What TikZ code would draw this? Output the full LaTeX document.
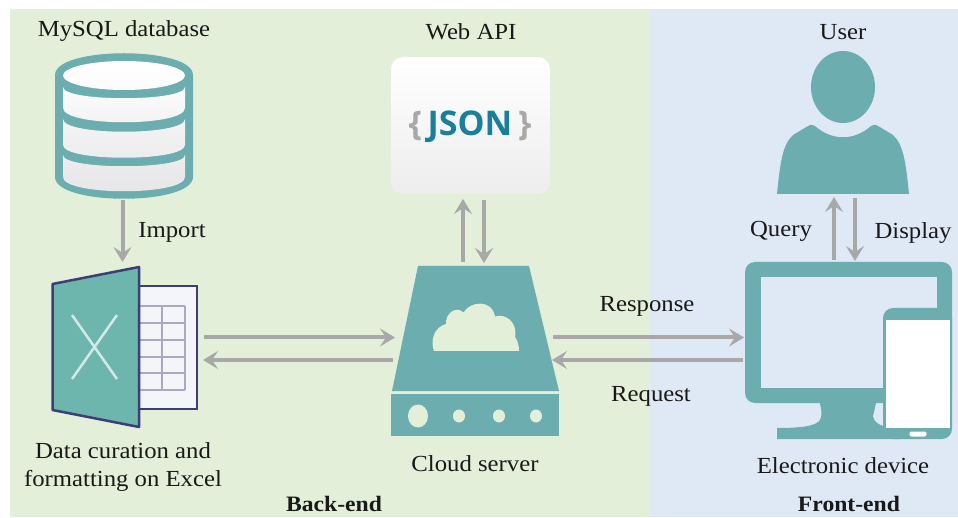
\documentclass[tikz,border=0pt]{standalone}
\usepackage{fontspec}
\setmainfont[FakeStretch=1.075]{Liberation Serif}
\newfontfamily\jsonfont{Open Sans}
\usetikzlibrary{arrows.meta}
\definecolor{backgreen}{HTML}{E3EFD9}
\definecolor{frontblue}{HTML}{DFE9F5}
\definecolor{iconteal}{HTML}{6CADB0}
\definecolor{sheetteal}{HTML}{6DB6AE}
\definecolor{sheetedge}{HTML}{3D3D78}
\definecolor{sheetpage}{HTML}{F4F5F9}
\definecolor{sheetgrid}{HTML}{A9A9C4}
\definecolor{jsonblue}{HTML}{1A7F98}
\definecolor{arrowgray}{HTML}{A8A8A8}
\definecolor{diskA}{HTML}{FBFBFB}
\definecolor{diskB}{HTML}{F3F3F4}
\definecolor{diskC}{HTML}{EDEDEE}
\definecolor{diskD}{HTML}{E6E6E8}
\tikzset{
	label text/.style={font=\fontsize{23}{28}\selectfont, text=black!90, inner sep=0pt, align=center},
	end text/.style={label text, font=\bfseries\fontsize{22}{26}\selectfont},
	link/.style={draw=arrowgray, line width=4pt, -{Stealth[length=15pt,width=18pt,inset=6pt]}},
	disk/.style n args={2}{top color=#1, bottom color=#2},
}
\begin{document}
\begin{tikzpicture}[x=1pt, y=-1pt]
	\useasboundingbox (0,0) rectangle (958,518);
	\fill[backgreen] (10,9) rectangle (650,517);
	\fill[frontblue] (650,9) rectangle (958,517);

	\fill[iconteal] (55,75) .. controls (55,46) and (193,46) .. (193,75) -- (193,177) .. controls (193,206) and (55,206) .. (55,177) -- cycle;
	\shade[disk={white}{diskA}] (124,75.5) ellipse [x radius=61, y radius=14.5];
	\shade[disk={diskA}{diskB}] (63,87) .. controls (63,102) and (185,102) .. (185,87) -- (185,108) .. controls (185,127) and (63,127) .. (63,108) -- cycle;
	\shade[disk={diskB}{diskC}] (63,119) .. controls (63,136) and (185,136) .. (185,119) -- (185,145) .. controls (185,162) and (63,162) .. (63,145) -- cycle;
	\shade[disk={diskC}{diskD}] (63,155) .. controls (63,170) and (185,170) .. (185,155) -- (185,177) .. controls (185,196) and (63,196) .. (63,177) -- cycle;

	\draw[sheetedge, line width=2.5pt, fill=sheetpage] (139,286) rectangle (197,409);
	\foreach \gridy in {306,323,340,357,373,390}
		\draw[sheetgrid, line width=2.5pt] (139,\gridy) -- (185,\gridy);
	\foreach \gridx in {162,185}
		\draw[sheetgrid, line width=2.5pt] (\gridx,306) -- (\gridx,390);
	\draw[sheetedge, line width=2.5pt, fill=sheetteal, line join=round] (52.5,284) -- (139,267) -- (139,427) -- (52.5,410) -- cycle;
	\draw[white!70!sheetteal, line width=2.5pt] (72,315) -- (117,379) (117,315) -- (72,379);

	\shade[rounded corners=12pt, top color=white, bottom color=white!86!gray] (391,57) rectangle (550,194);
	\node[font=\jsonfont\bfseries\fontsize{34}{40}\selectfont, text=jsonblue, inner sep=0pt] (json) at (470,127) {\textcolor{arrowgray}{\{}\,JSON\,\textcolor{arrowgray}{\}}};

	\fill[iconteal] (418,266) -- (529,266) -- (559,391) -- (392,391) -- cycle;
	\fill[backgreen] (434,351) .. controls (430,341) and (434,327) .. (446,324) .. controls (445,314) and (456,305) .. (463.5,312.5) .. controls (470,301) and (492,299) .. (495,316.5) .. controls (505,313) and (518,322) .. (515,337) .. controls (518,341) and (519,346) .. (519,351) -- cycle;
	\fill[iconteal] (391,394) rectangle (559,436);
	\fill[backgreen] (418,416) ellipse [x radius=10, y radius=11.5];
	\foreach \ledx in {459,499,536}
		\fill[backgreen] (\ledx,416) ellipse [x radius=6, y radius=6.5];

	\fill[iconteal] (843,87) ellipse [x radius=32, y radius=36];
	\fill[iconteal] (777,194) .. controls (780,165) and (782,145) .. (793,135) -- (808,126) .. controls (811,124) and (813,125) .. (815,126) .. controls (832,141) and (854,141) .. (871,126) .. controls (873,125) and (875,124) .. (878,126) -- (893,135) .. controls (904,145) and (906,165) .. (909,194) -- cycle;

	\fill[iconteal, rounded corners=10pt] (745,262) rectangle (952,403);
	\fill[frontblue] (761,277) rectangle (937,388);
	\fill[iconteal] (819,400) .. controls (821,408) and (823,414) .. (820,420) .. controls (816,427) and (795,428) .. (777,428) -- (777,439) -- (900,439) -- (900,426) -- (883,426) .. controls (875,423) and (871,418) .. (874,412) -- (876,403) -- (876,400) -- cycle;
	\fill[iconteal, rounded corners=10pt] (883,330) -- (883,308) -- (952,308) -- (952,439) -- (883,439) -- (883,420);
	\fill[iconteal] (883,330) rectangle (900,439);
	\fill[white] (886,320) rectangle (950,428);
	\fill[white, rounded corners=2pt] (909.5,431.5) rectangle (926.5,436.5);

	\coordinate (db) at (122.5,200);
	\coordinate (sheet) at (122.5,262);
	\coordinate (apiup) at (463,199);
	\coordinate (apiupfoot) at (463,262);
	\coordinate (apidown) at (484,200);
	\coordinate (apidownfoot) at (484,263);
	\coordinate (userup) at (834,197);
	\coordinate (userupfoot) at (834,260);
	\coordinate (userdown) at (855,198);
	\coordinate (userdownfoot) at (855,261);
	\coordinate (sheetout) at (204,337.5);
	\coordinate (serverin) at (395,337.5);
	\coordinate (serverinb) at (393,360);
	\coordinate (sheetin) at (203,360);
	\coordinate (serverout) at (553,337.5);
	\coordinate (devicein) at (744,337.5);
	\coordinate (deviceout) at (743,360);
	\coordinate (serveroutb) at (552,360);

	\draw[link] (db) -- (sheet);
	\draw[link] (apiupfoot) -- (apiup);
	\draw[link] (apidown) -- (apidownfoot);
	\draw[link] (userupfoot) -- (userup);
	\draw[link] (userdown) -- (userdownfoot);
	\draw[link] (sheetout) -- (serverin);
	\draw[link] (serverinb) -- (sheetin);
	\draw[link] (serverout) -- (devicein);
	\draw[link] (deviceout) -- (serveroutb);

	\node[label text] (dbname) at (124,31) {MySQL database};
	\node[label text] (apiname) at (471,32) {Web API};
	\node[label text] (username) at (843,32) {User};
	\node[label text] (import) at (172,232) {Import};
	\node[label text] (query) at (781,231) {Query};
	\node[label text] (display) at (913,233) {Display};
	\node[label text] (response) at (647,306) {Response};
	\node[label text] (request) at (651,396) {Request};
	\node[label text] (curation) at (123,467) {Data curation and\\formatting on Excel};
	\node[label text] (servername) at (475,464) {Cloud server};
	\node[label text] (devicename) at (843,466) {Electronic device};
	\node[end text] (backend) at (334,504) {Back-end};
	\node[end text] (frontend) at (849,504) {Front-end};
\end{tikzpicture}
\end{document}
